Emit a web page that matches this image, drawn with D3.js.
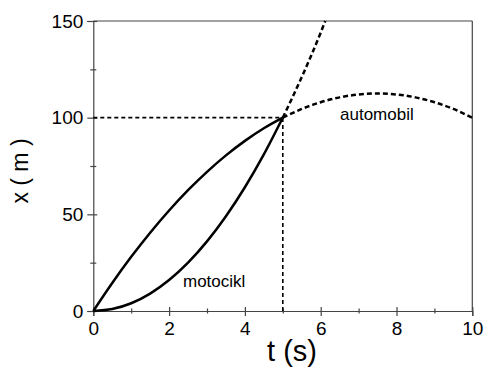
<!DOCTYPE html>
<html><head><meta charset="utf-8">
<script src="https://cdn.jsdelivr.net/npm/d3@7"></script>
<style>body{margin:0;background:#fff}svg{display:block}text{font-family:"Liberation Sans",Arial,sans-serif}</style>
</head><body><svg id="c" width="484" height="369"></svg>
<script>
// time values (s)
const tAuto = [0,0.5,1,1.5,2,2.5,3,3.5,4,4.5,5,5.5,6,6.5,7,7.5,8,8.5,9,9.5,10];
// automobil position (m)
const xAuto = [0,14.5,28,40.5,52,62.5,72,80.5,88,94.5,100,104.5,108,110.5,112,112.5,112,110.5,108,104.5,100];
const tMoto = [0,0.5,1,1.5,2,2.5,3,3.5,4,4.5,5,5.5,6,6.12];
// motocikl position (m)
const xMoto = [0,1,4,9,16,25,36,49,64,81,100,121,144,150];
const tSplit = 5;          // meeting time
const xMeet = 100;         // meeting position
const xTicks = [0,2,4,6,8,10];
const xMinor = [1,3,5,7,9];
const yTicks = [0,50,100,150];
const yMinor = [25,75,125];

const svg = d3.select("#c");
const L=93.3,R=472.3,T=21,B=311;
const x = d3.scaleLinear().domain([0,10]).range([L,R]);
const y = d3.scaleLinear().domain([0,150]).range([B,T]);
const axisCol="#444";

// frame top/right
svg.append("line").attr("x1",L).attr("x2",R).attr("y1",T).attr("y2",T).attr("stroke",axisCol).attr("stroke-width",1.2);
svg.append("line").attr("x1",R).attr("x2",R).attr("y1",T).attr("y2",B).attr("stroke",axisCol).attr("stroke-width",1.2);

// axes
const gx = svg.append("g").attr("transform",`translate(0,${B})`)
  .call(d3.axisBottom(x).tickValues(xTicks).tickFormat(d3.format("d")).tickSize(5).tickPadding(6));
gx.selectAll(".tick line").attr("y1",-4);
const gxm = svg.append("g").attr("transform",`translate(0,${B})`)
  .call(d3.axisBottom(x).tickValues(xMinor).tickFormat("").tickSize(2.5));
gxm.selectAll(".tick line").attr("y1",-2.5);
gxm.select(".domain").remove();
const gy = svg.append("g").attr("transform",`translate(${L},0)`)
  .call(d3.axisLeft(y).tickValues(yTicks).tickFormat(d3.format("d")).tickSize(6).tickPadding(4));
gy.selectAll(".tick line").attr("x1",4);
const gym = svg.append("g").attr("transform",`translate(${L},0)`)
  .call(d3.axisLeft(y).tickValues(yMinor).tickFormat("").tickSize(3));
gym.selectAll(".tick line").attr("x1",3);
gym.select(".domain").remove();
svg.selectAll(".domain").attr("stroke",axisCol).attr("stroke-width",1.2);
svg.selectAll(".tick line").attr("stroke",axisCol).attr("stroke-width",1.2);
svg.selectAll(".tick text").attr("fill","#000").style("font-size","19px");
gx.selectAll(".tick text").attr("dy","0.71em");

// reference dashed lines
svg.append("line").attr("x1",x(0)).attr("x2",x(tSplit)).attr("y1",y(xMeet)).attr("y2",y(xMeet))
  .attr("stroke","#000").attr("stroke-width",1.6).attr("stroke-dasharray","4,3");
svg.append("line").attr("x1",x(tSplit)).attr("x2",x(tSplit)).attr("y1",y(0)).attr("y2",y(xMeet))
  .attr("stroke","#000").attr("stroke-width",1.6).attr("stroke-dasharray","4,3");

const line = d3.line().x(d=>x(d[0])).y(d=>y(d[1])).curve(d3.curveMonotoneX);
function draw(ts,xs){
  const pts = ts.map((t,i)=>[t,xs[i]]);
  const a = pts.filter(p=>p[0]<=tSplit), b = pts.filter(p=>p[0]>=tSplit);
  svg.append("path").attr("d",line(a)).attr("fill","none").attr("stroke","#000").attr("stroke-width",2.5);
  svg.append("path").attr("d",line(b)).attr("fill","none").attr("stroke","#000").attr("stroke-width",2.5).attr("stroke-dasharray","5,3");
}
draw(tAuto,xAuto);
draw(tMoto,xMoto);

svg.append("text").attr("x",340).attr("y",120).style("font-size","17px").text("automobil");
svg.append("text").attr("x",183).attr("y",287).style("font-size","17px").text("motocikl");
svg.append("text").attr("x",292).attr("y",361).attr("text-anchor","middle").style("font-size","29px").text("t (s)");
svg.append("text").attr("transform","translate(28,171) rotate(-90)").attr("text-anchor","middle").style("font-size","23px").text("x ( m )");
</script></body></html>
